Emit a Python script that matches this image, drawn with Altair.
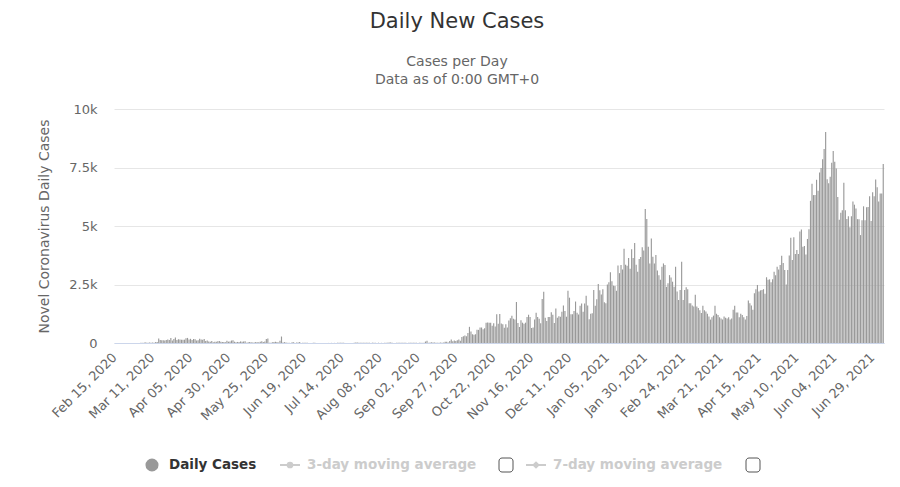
import altair as alt
import pandas as pd

FONT = "DejaVu Sans"

# Daily new cases, one list per month (Feb 15, 2020 -> Jul 6, 2021)
feb_2020 = [0, 0, 0, 0, 0, 0, 0, 0, 0, 0, 0, 0, 1, 0, 1]
mar_2020 = [0, 5, 7, 14, 5, 28, 10, 6, 18, 12, 20, 9, 39, 41, 190, 125, 120, 117, 110, 130,
            153, 123, 212, 106, 172, 235, 130, 159, 150, 140, 142]
apr_2020 = [142, 208, 217, 150, 179, 131, 170, 156, 109, 118, 184, 153, 134, 170, 85, 110, 69, 54,
            84, 36, 57, 50, 71, 88, 51, 38, 40, 31, 94, 57]
may_2020 = [69, 105, 122, 55, 30, 45, 39, 68, 54, 67, 70, 16, 37, 40, 36, 17, 22, 47, 37, 31, 50,
            78, 48, 60, 172, 187, 15, 10, 30, 38, 57]
jun_2020 = [38, 20, 93, 277, 19, 37, 19, 7, 11, 2, 31, 33, 5, 20, 17, 41, 4, 10, 8, 8, 6, 2, 3, 5,
            6, 6, 4, 3, 2, 4]
jul_2020 = [5, 3, 1, 2, 3, 3, 6, 3, 5, 2, 8, 8, 7, 10, 7, 3, 4, 5, 5, 2, 5, 15, 23, 17, 11, 14, 9,
            16, 6, 15, 9]
aug_2020 = [8, 0, 14, 11, 8, 3, 12, 3, 7, 2, 8, 14, 13, 23, 25, 6, 5, 4, 9, 12, 11, 6, 9, 6, 7, 5,
            11, 10, 6, 6, 8]
sep_2020 = [6, 5, 6, 8, 5, 6, 62, 100, 8, 20, 29, 21, 24, 11, 11, 13, 24, 11, 20, 52, 57, 26, 82,
            147, 71, 111, 82, 115, 150, 101]
oct_2020 = [260, 287, 317, 293, 432, 691, 489, 374, 354, 374, 563, 561, 660, 660, 589, 629, 869,
            871, 865, 862, 732, 847, 710, 1228, 823, 1240, 835, 801, 649, 799, 659]
nov_2020 = [957, 1054, 1168, 1032, 1009, 1755, 852, 685, 972, 869, 822, 869, 1109, 1208, 1114,
            646, 659, 1000, 1290, 1109, 1041, 848, 1884, 2188, 1074, 935, 1109, 1109, 1315, 1212]
dec_2020 = [851, 1472, 1075, 1141, 1123, 1335, 1600, 1371, 1123, 2234, 1937, 1229, 1229, 1371,
            1772, 1295, 1220, 1589, 1684, 1340, 1690, 2018, 1599, 1018, 1247, 1273, 2270, 1594,
            1870, 2525, 2251]
jan_2021 = [2068, 2295, 1741, 1704, 2500, 2593, 3027, 2643, 2451, 2433, 2232, 3309, 2985, 3337,
            3142, 4029, 3346, 3306, 3631, 3170, 4008, 3631, 4275, 3346, 3048, 3585, 3680, 4094,
            3950, 5728, 5298]
feb_2021 = [4110, 3400, 4470, 3690, 3400, 3760, 3100, 2900, 2700, 3260, 3400, 3330, 2400, 2550,
            2900, 2800, 2620, 2400, 3260, 2200, 1840, 2270, 3475, 1840, 2270, 2380, 2300, 1700]
mar_2021 = [1700, 1600, 1560, 2060, 1560, 1500, 1400, 1280, 1590, 1400, 1350, 1250, 1130, 1000,
            1100, 1170, 1590, 1250, 1200, 1100, 1050, 1000, 1130, 1080, 1050, 1100, 1000, 1050,
            1420, 1590, 1300]
apr_2021 = [1300, 1100, 1250, 1200, 1100, 1000, 1150, 1815, 1700, 1600, 1420, 2130, 2300, 2480,
            2200, 2250, 2270, 2300, 2100, 2810, 2700, 2720, 2600, 2720, 3050, 2900, 3260, 3140,
            3330, 3730]
may_2021 = [3418, 3120, 2500, 3120, 3744, 4498, 3551, 4519, 3807, 3973, 3807, 4765, 4855, 4113,
            4140, 3780, 4446, 4865, 6075, 6806, 6320, 6320, 6976, 6509, 7289, 7478, 7857, 8290,
            9020, 6999, 6824]
jun_2021 = [7105, 7703, 8209, 7748, 7452, 6241, 5271, 5566, 5671, 6849, 5671, 5304, 5419, 4949,
            5419, 6048, 5911, 5744, 5293, 5293, 4611, 5244, 5841, 5244, 5803, 5812, 6276, 5218,
            6437, 6276]
jul_2021 = [6982, 6658, 6045, 6387, 6387, 7654]

tick_labels = ["Feb 15, 2020", "Mar 11, 2020", "Apr 05, 2020", "Apr 30, 2020", "May 25, 2020",
               "Jun 19, 2020", "Jul 14, 2020", "Aug 08, 2020", "Sep 02, 2020", "Sep 27, 2020",
               "Oct 22, 2020", "Nov 16, 2020", "Dec 11, 2020", "Jan 05, 2021", "Jan 30, 2021",
               "Feb 24, 2021", "Mar 21, 2021", "Apr 15, 2021", "May 10, 2021", "Jun 04, 2021",
               "Jun 29, 2021"]
y_ticks = [0, 2500, 5000, 7500, 10000]

cases = (feb_2020 + mar_2020 + apr_2020 + may_2020 + jun_2020 + jul_2020 + aug_2020 + sep_2020
         + oct_2020 + nov_2020 + dec_2020 + jan_2021 + feb_2021 + mar_2021 + apr_2021 + may_2021
         + jun_2021 + jul_2021)
dates = pd.date_range("2020-02-15", periods=len(cases), freq="D")
df = pd.DataFrame({"label": [d.strftime("%b %d, %Y") for d in dates], "cases": cases})

bars = alt.Chart(df).mark_bar(color="#999999").encode(
    x=alt.X("label:N", sort=None,
            scale=alt.Scale(paddingInner=0.25, paddingOuter=0.125),
            axis=alt.Axis(values=tick_labels, title=None, labelAngle=-45, labelAlign="right",
                          labelBaseline="middle", labelFont=FONT, labelFontSize=13,
                          labelColor="#666666", labelPadding=12, ticks=False,
                          domainColor="#ccd6eb", grid=False, labelOverlap=False)),
    y=alt.Y("cases:Q", scale=alt.Scale(domain=[0, 10000], nice=False),
            axis=alt.Axis(values=y_ticks,
                          labelExpr="datum.value == 0 ? '0' : datum.value / 1000 + 'k'",
                          labelFont=FONT, labelFontSize=13, labelColor="#666666",
                          labelPadding=17, ticks=False, domain=False, grid=True,
                          gridColor="#e6e6e6", title="Novel Coronavirus Daily Cases",
                          titleFont=FONT, titleFontSize=14, titleFontWeight="normal",
                          titleColor="#666666", titleAngle=-90, titleX=-70, titleY=117,
                          titleAlign="center", titleBaseline="middle")),
)

one = pd.DataFrame({"k": [0]})


def txt(s, x, y, size, color, weight="normal", align="center"):
    return alt.Chart(one).mark_text(text=s, font=FONT, fontSize=size, color=color,
                                    fontWeight=weight, align=align, baseline="middle").encode(
        x=alt.value(x), y=alt.value(y))


LY = 356
title = txt("Daily New Cases", 343, -87, 21, "#333333")
sub1 = txt("Cases per Day", 343, -47, 14, "#666666")
sub2 = txt("Data as of 0:00 GMT+0", 343, -29, 14, "#666666")

leg_dot = alt.Chart(one).mark_point(shape="circle", filled=True, size=170, color="#999999",
                                    opacity=1).encode(x=alt.value(38), y=alt.value(LY))
leg_t1 = txt("Daily Cases", 55, LY, 13.5, "#333333", "bold", "left")
leg_l2 = alt.Chart(one).mark_rule(color="#cccccc", strokeWidth=2).encode(
    x=alt.value(166), x2=alt.value(186), y=alt.value(LY))
leg_p2 = alt.Chart(one).mark_point(shape="circle", filled=True, size=45, color="#cccccc",
                                   opacity=1).encode(x=alt.value(176), y=alt.value(LY))
leg_t2 = txt("3-day moving average", 193, LY, 13.5, "#cccccc", "bold", "left")
box1 = alt.Chart(one).mark_rect(fill="white", stroke="#555555", strokeWidth=1,
                                cornerRadius=3).encode(
    x=alt.value(385), x2=alt.value(399), y=alt.value(LY - 7), y2=alt.value(LY + 7))
leg_l3 = alt.Chart(one).mark_rule(color="#cccccc", strokeWidth=2).encode(
    x=alt.value(412), x2=alt.value(432), y=alt.value(LY))
leg_p3 = alt.Chart(one).mark_point(shape="diamond", filled=True, size=60, color="#cccccc",
                                   opacity=1).encode(x=alt.value(422), y=alt.value(LY))
leg_t3 = txt("7-day moving average", 439, LY, 13.5, "#cccccc", "bold", "left")
box2 = alt.Chart(one).mark_rect(fill="white", stroke="#555555", strokeWidth=1,
                                cornerRadius=3).encode(
    x=alt.value(632), x2=alt.value(646), y=alt.value(LY - 7), y2=alt.value(LY + 7))

chart = alt.layer(
    bars, title, sub1, sub2, leg_dot, leg_t1, leg_l2, leg_p2, leg_t2, box1, leg_l3, leg_p3,
    leg_t3, box2
).properties(
    width=770, height=234,
    autosize=alt.AutoSizeParams(type="none"),
    padding={"left": 106, "top": 101, "right": 8, "bottom": 136},
    background="white",
).configure_view(stroke=None)

chart.save("out.html", embed_options={"renderer": "svg", "actions": False})
